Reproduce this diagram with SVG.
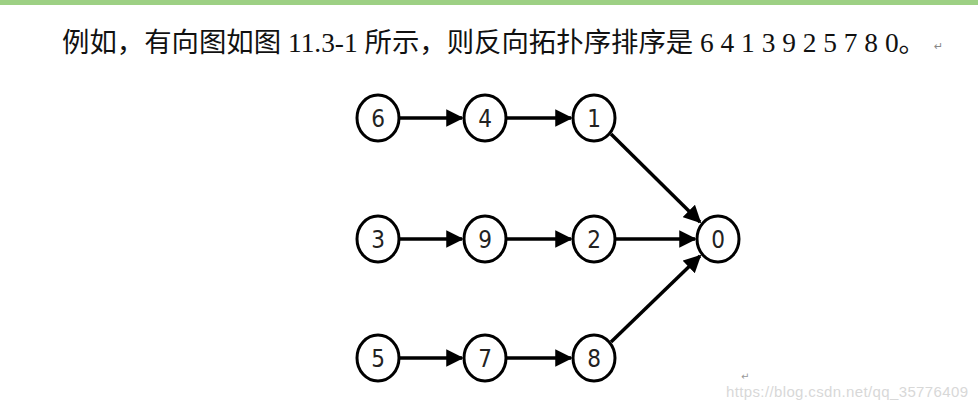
<svg xmlns="http://www.w3.org/2000/svg" width="978" height="411" viewBox="0 0 978 411">
<style>
.n ellipse{fill:#fff;stroke:#000;stroke-width:3}
.n text{font-family:"DejaVu Sans Condensed","DejaVu Sans",sans-serif;font-size:24px;text-anchor:middle;fill:#222}
.e line{stroke:#000;stroke-width:3.5}
.t{font-family:"Liberation Serif","Noto Sans CJK SC",serif;font-size:27px;fill:#111}
</style>
<defs><marker id="a" viewBox="0 0 10 10" refX="9" refY="5" markerWidth="5" markerHeight="5" markerUnits="strokeWidth" orient="auto"><path d="M0,0L10,5L0,10z" fill="#000"/></marker></defs>
<rect width="978" height="411" fill="#fff"/>
<rect width="978" height="5" fill="#9dd084"/>
<text class="t" x="62" y="52" textLength="864" lengthAdjust="spacingAndGlyphs">例如，有向图如图 11.3-1 所示，则反向拓扑序排序是 6 4 1 3 9 2 5 7 8 0。</text>
<text x="934" y="50" font-family="DejaVu Sans,sans-serif" font-size="11" fill="#888">↵</text>
<g class="e">
<line x1="400" y1="118" x2="462" y2="118" marker-end="url(#a)"/>
<line x1="507" y1="118" x2="571" y2="118" marker-end="url(#a)"/>
<line x1="400" y1="239" x2="462" y2="239" marker-end="url(#a)"/>
<line x1="507" y1="239" x2="571" y2="239" marker-end="url(#a)"/>
<line x1="616" y1="239" x2="695" y2="239" marker-end="url(#a)"/>
<line x1="400" y1="358" x2="462" y2="358" marker-end="url(#a)"/>
<line x1="507" y1="358" x2="571" y2="358" marker-end="url(#a)"/>
<line x1="611" y1="134" x2="700" y2="222" marker-end="url(#a)"/>
<line x1="611" y1="342" x2="700" y2="256" marker-end="url(#a)"/>
</g>
<g id="n6" class="n"><ellipse cx="378" cy="118" rx="21" ry="23"/><text x="378" y="127">6</text></g>
<g id="n4" class="n"><ellipse cx="485" cy="118" rx="21" ry="23"/><text x="485" y="127">4</text></g>
<g id="n1" class="n"><ellipse cx="594" cy="118" rx="21" ry="23"/><text x="594" y="127">1</text></g>
<g id="n3" class="n"><ellipse cx="378" cy="239" rx="21" ry="23"/><text x="378" y="248">3</text></g>
<g id="n9" class="n"><ellipse cx="485" cy="239" rx="21" ry="23"/><text x="485" y="248">9</text></g>
<g id="n2" class="n"><ellipse cx="594" cy="239" rx="21" ry="23"/><text x="594" y="248">2</text></g>
<g id="n0" class="n"><ellipse cx="718" cy="239" rx="21" ry="23"/><text x="718" y="248">0</text></g>
<g id="n5" class="n"><ellipse cx="378" cy="358" rx="21" ry="23"/><text x="378" y="367">5</text></g>
<g id="n7" class="n"><ellipse cx="485" cy="358" rx="21" ry="23"/><text x="485" y="367">7</text></g>
<g id="n8" class="n"><ellipse cx="594" cy="358" rx="21" ry="23"/><text x="594" y="367">8</text></g>
<text x="741" y="380" font-family="DejaVu Sans,sans-serif" font-size="10" fill="#999">↵</text>
<text x="726" y="397" font-family="Liberation Sans,sans-serif" font-size="15" fill="#d8d8d8" textLength="242">https://blog.csdn.net/qq_35776409</text>
</svg>
